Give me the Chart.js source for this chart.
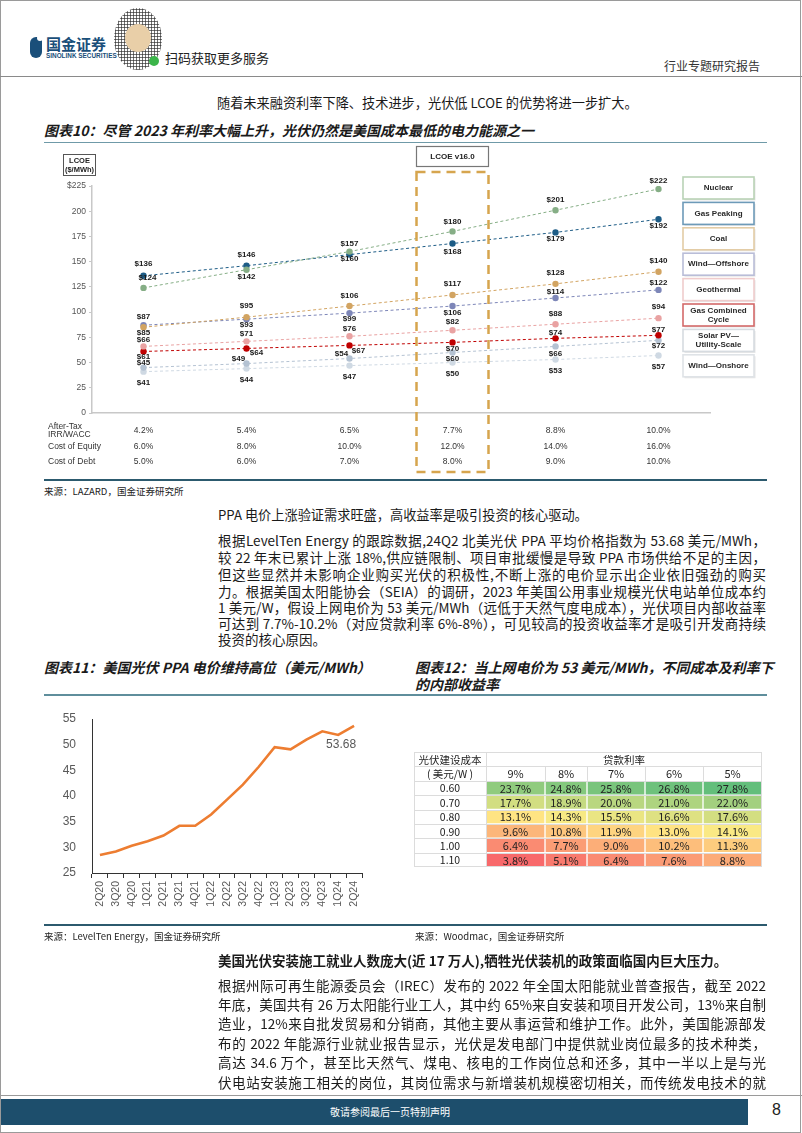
<!DOCTYPE html>
<html><head><meta charset="utf-8">
<script src="https://cdn.jsdelivr.net/npm/chart.js@4.4.1/dist/chart.umd.min.js"></script>
<style>
html,body{margin:0;padding:0;background:#fff;}
body{width:802px;height:1133px;position:relative;overflow:hidden;font-family:"Noto Sans CJK SC",sans-serif;color:#1a1a1a;}
.t{position:absolute;white-space:nowrap;line-height:18px;}
.b13{font-size:13.2px;}
.jl{position:absolute;left:218px;width:548px;white-space:nowrap;text-align:justify;text-align-last:justify;font-size:13.5px;line-height:18px;}
.jl.last{text-align:left;text-align-last:left;}
.ttl{font-weight:bold;font-style:italic;font-size:14px;}
.src{font-size:9.5px;color:#222;}
.rule{position:absolute;}
canvas{position:absolute;}
</style></head><body>

<!-- page frame -->
<div class="rule" style="left:0;top:0;width:799px;height:1131px;border:1px solid #9a9a9a;"></div>

<!-- header -->
<div class="rule" style="left:30px;top:37px;width:12px;height:21px;background:#1a4f7a;border-radius:6px 2px 6px 6px;"></div>
<div class="rule" style="left:37px;top:35px;width:6px;height:6px;background:#fff;border-radius:50%;"></div>
<div class="t" style="left:46px;top:35px;font-size:15px;font-weight:bold;color:#1a4f7a;line-height:18px;">国金证券</div>
<div class="t" style="left:46px;top:52px;font-size:6.4px;font-weight:bold;color:#1a4f7a;line-height:8px;font-family:'Liberation Sans',Arial;">SINOLINK SECURITIES</div>
<div class="rule" style="left:114px;top:8px;width:48px;height:62px;border-radius:50%;background:radial-gradient(circle,#444 0.9px,transparent 1.3px) 0 0/3px 3px;"></div>
<div class="rule" style="left:125px;top:24px;width:26px;height:28px;border-radius:50%;background:#e9cfa8;"></div>
<div class="rule" style="left:149px;top:56px;width:10px;height:10px;border-radius:50%;background:#3bb54a;"></div>
<div class="t" style="left:165px;top:49px;font-size:13px;color:#222;">扫码获取更多服务</div>
<div class="t" style="left:664px;top:57px;font-size:12px;color:#333;">行业专题研究报告</div>
<div class="rule" style="left:0;top:76px;width:802px;height:1px;background:#8a8a8a;"></div>

<div class="t b13" style="left:217px;top:94px;">随着未来融资利率下降、技术进步，光伏低 LCOE 的优势将进一步扩大。</div>
<div class="t ttl" style="left:44px;top:121px;">图表10：尽管 2023 年利率大幅上升，光伏仍然是美国成本最低的电力能源之一</div>
<div class="rule" style="left:44px;top:142px;width:723px;height:1px;background:#6f9aa8;"></div>

<canvas id="lcoe" width="723" height="335" style="left:44px;top:145px;"></canvas>

<div class="rule" style="left:44px;top:479px;width:723px;height:2px;background:#2c5a6e;"></div>
<div class="t src" style="left:44px;top:482px;">来源：LAZARD，国金证券研究所</div>

<div class="t b13" style="left:218px;top:506px;">PPA 电价上涨验证需求旺盛，高收益率是吸引投资的核心驱动。</div>
<div class="jl" style="top:531px;">根据LevelTen Energy 的跟踪数据,24Q2 北美光伏 PPA 平均价格指数为 53.68 美元/MWh，</div>
<div class="jl" style="top:548px;">较 22 年末已累计上涨 18%,供应链限制、项目审批缓慢是导致 PPA 市场供给不足的主因，</div>
<div class="jl" style="top:565px;">但这些显然并未影响企业购买光伏的积极性,不断上涨的电价显示出企业依旧强劲的购买</div>
<div class="jl" style="top:582px;">力。根据美国太阳能协会（SEIA）的调研，2023 年美国公用事业规模光伏电站单位成本约</div>
<div class="jl" style="top:598px;">1 美元/W，假设上网电价为 53 美元/MWh（远低于天然气度电成本），光伏项目内部收益率</div>
<div class="jl" style="top:614px;">可达到 7.7%-10.2%（对应贷款利率 6%-8%），可见较高的投资收益率才是吸引开发商持续</div>
<div class="jl last" style="top:630px;">投资的核心原因。</div>

<div class="t ttl" style="left:44px;top:658px;">图表11：美国光伏 PPA 电价维持高位（美元/MWh）</div>
<div class="t ttl" style="left:415px;top:658px;">图表12：当上网电价为 53 美元/MWh，不同成本及利率下</div>
<div class="t ttl" style="left:415px;top:675px;">的内部收益率</div>
<div class="rule" style="left:44px;top:694px;width:723px;height:2px;background:#5f8e9c;"></div>

<canvas id="ppa" width="356" height="228" style="left:44px;top:700px;"></canvas>
<canvas id="irr" width="348" height="115" style="left:414px;top:752px;"></canvas>

<div class="rule" style="left:44px;top:924px;width:723px;height:2px;background:#2c5a6e;"></div>
<div class="t src" style="left:44px;top:927px;">来源：LevelTen Energy，国金证券研究所</div>
<div class="t src" style="left:415px;top:927px;">来源：Woodmac，国金证券研究所</div>

<div class="t" style="left:218px;top:951px;font-size:13.5px;font-weight:bold;">美国光伏安装施工就业人数庞大(近 17 万人),牺牲光伏装机的政策面临国内巨大压力。</div>
<div class="jl" style="top:976px;">根据州际可再生能源委员会（IREC）发布的 2022 年全国太阳能就业普查报告，截至 2022</div>
<div class="jl" style="top:995px;">年底，美国共有 26 万太阳能行业工人，其中约 65%来自安装和项目开发公司，13%来自制</div>
<div class="jl" style="top:1014px;">造业，12%来自批发贸易和分销商，其他主要从事运营和维护工作。此外，美国能源部发</div>
<div class="jl" style="top:1034px;">布的 2022 年能源行业就业报告显示，光伏是发电部门中提供就业岗位最多的技术种类，</div>
<div class="jl" style="top:1053px;">高达 34.6 万个，甚至比天然气、煤电、核电的工作岗位总和还多，其中一半以上是与光</div>
<div class="jl" style="top:1073px;">伏电站安装施工相关的岗位，其岗位需求与新增装机规模密切相关，而传统发电技术的就</div>

<!-- footer -->
<div class="rule" style="left:0;top:1095px;width:802px;height:1px;background:#9a9a9a;"></div>
<div class="rule" style="left:1px;top:1099px;width:747px;height:26px;background:#1d4e6c;"></div>
<div class="t" style="left:300px;top:1103px;width:180px;text-align:center;font-size:10px;color:#fff;">敬请参阅最后一页特别声明</div>
<div class="t" style="left:772px;top:1101px;font-size:16px;color:#222;font-family:'Liberation Sans',Arial;">8</div>

<script>
// ---------------- DATA ----------------
// Figure 10: LCOE by after-tax IRR/WACC scenario ($/MWh)
const WACC = ['4.2%', '5.4%', '6.5%', '7.7%', '8.8%', '10.0%'];
const COST_OF_EQUITY = ['6.0%', '8.0%', '10.0%', '12.0%', '14.0%', '16.0%'];
const COST_OF_DEBT = ['5.0%', '6.0%', '7.0%', '8.0%', '9.0%', '10.0%'];
const LCOE_NUCLEAR = [124, 142, 160, 180, 201, 222];
const LCOE_GAS_PEAKING = [136, 146, 157, 168, 179, 192];
const LCOE_COAL = [85, 95, 106, 117, 128, 140];
const LCOE_WIND_OFFSHORE = [87, 93, 99, 106, 114, 122];
const LCOE_GEOTHERMAL = [66, 71, 76, 82, 88, 94];
const LCOE_GAS_CC = [61, 64, 67, 70, 74, 77];
const LCOE_SOLAR_PV = [45, 49, 54, 60, 66, 72];
const LCOE_WIND_ONSHORE = [41, 44, 47, 50, 53, 57];
const LCOE_MAX = 225, LCOE_STEP = 25;
const HIGHLIGHT_LABEL = 'LCOE v16.0';

// Figure 11: US solar PPA price index (USD/MWh)
const PPA_QUARTERS = ['2Q20','3Q20','4Q20','1Q21','2Q21','3Q21','4Q21','1Q22','2Q22','3Q22','4Q22','1Q23','2Q23','3Q23','4Q23','1Q24','2Q24'];
const PPA_INDEX = [28.5, 29.2, 30.3, 31.2, 32.3, 34.2, 34.2, 36.4, 39.3, 42.2, 45.7, 49.5, 49.1, 51.0, 52.6, 51.9, 53.68];

// Figure 12: IRR by build cost (USD/W) and loan rate
const BUILD_COST = ['0.60', '0.70', '0.80', '0.90', '1.00', '1.10'];
const LOAN_RATE = ['9%', '8%', '7%', '6%', '5%'];
const IRR_060 = [23.7, 24.8, 25.8, 26.8, 27.8];
const IRR_070 = [17.7, 18.9, 20.0, 21.0, 22.0];
const IRR_080 = [13.1, 14.3, 15.5, 16.6, 17.6];
const IRR_090 = [9.6, 10.8, 11.9, 13.0, 14.1];
const IRR_100 = [6.4, 7.7, 9.0, 10.2, 11.3];
const IRR_110 = [3.8, 5.1, 6.4, 7.6, 8.8];

// ---------------- STYLE ----------------
// label offsets [dx, dy] in px, one per point (styling only)
const SERIES_STYLE = [
  {name:'Nuclear', color:'#86ae86', box:'#b9d3b6',
   off:[[4,-10],[0,7],[0,7.5],[0,-9.5],[0,-10],[0,-8]]},
  {name:'Gas Peaking', color:'#1d5c86', box:'#6d9ab8',
   off:[[0,-12],[0,-11],[0,-11],[0,8.5],[0,6.5],[0,7]]},
  {name:'Coal', color:'#d2a462', box:'#e3cca6',
   off:[[0,6],[0,-11],[0,-10],[0,-11],[0,-11],[0,-11]]},
  {name:'Wind\u2014Offshore', color:'#7d86b8', box:'#b9bdd8',
   off:[[0,-8],[0,5.5],[0,6],[0,7],[0,-6],[0,-7]]},
  {name:'Geothermal', color:'#e9a2a2', box:'#efcccc',
   off:[[0,-6.5],[0,-7.5],[0,-8],[0,-8],[0,-10],[0,-11]]},
  {name:'Gas Combined\nCycle', color:'#c00000', box:'#d46a6a',
   off:[[0,5.5],[10,4.5],[9,5.5],[0,6],[0,-6],[0,-6]]},
  {name:'Solar PV\u2014\nUtility-Scale', color:'#b4c2d2', box:'#d6dbe0',
   off:[[0,-4.5],[-8,-4.5],[-8,-4.5],[0,6.5],[0,7.5],[0,5.5]]},
  {name:'Wind\u2014Onshore', color:'#cfd9e3', box:'#dfe3e7',
   off:[[0,11.5],[0,11.5],[0,11.5],[0,11.5],[0,11.5],[0,11.5]]}
];
const LCOE_SERIES = [LCOE_NUCLEAR, LCOE_GAS_PEAKING, LCOE_COAL, LCOE_WIND_OFFSHORE, LCOE_GEOTHERMAL, LCOE_GAS_CC, LCOE_SOLAR_PV, LCOE_WIND_ONSHORE];
const HIGHLIGHT_INDEX = 3;
const IRR_COL_WIDTHS = [59, 42, 58, 58, 59];

Chart.defaults.font.family = '"Liberation Sans", Arial, sans-serif';
Chart.defaults.animation = false;

// ---------------- FIGURE 10 ----------------
const lcoeExtras = {
  id: 'lcoeExtras',
  afterDatasetsDraw(chart) {
    const {ctx, chartArea: a, scales: {x}} = chart;
    ctx.save();
    ctx.textAlign = 'center';
    ctx.textBaseline = 'middle';
    // highlighted scenario box
    const cx = x.getPixelForValue(HIGHLIGHT_INDEX);
    ctx.setLineDash([9, 6]);
    ctx.strokeStyle = '#d6a54e'; ctx.lineWidth = 2.5;
    ctx.strokeRect(cx - 36, 27, 72, 300);
    ctx.setLineDash([]);
    // value labels
    ctx.font = 'bold 8px "Liberation Sans", Arial';
    ctx.fillStyle = '#1a1a1a';
    chart.data.datasets.forEach((ds, di) => {
      const meta = chart.getDatasetMeta(di);
      meta.data.forEach((pt, i) => {
        const o = ds.labelOffset[i];
        ctx.fillText('$' + ds.data[i], pt.x + o[0], pt.y + o[1]);
      });
    });
    // legend boxes (right)
    const bx = 639, bw = 71, bh = 22, by0 = 32, gap = 25.4;
    chart.data.datasets.forEach((ds, di) => {
      const y0 = by0 + di * gap;
      ctx.fillStyle = '#e6e6e6';
      ctx.fillRect(bx + 1.5, y0 + 1.5, bw, bh);
      ctx.fillStyle = '#fff';
      ctx.fillRect(bx, y0, bw, bh);
      ctx.strokeStyle = ds.boxColor;
      ctx.lineWidth = 1.6;
      ctx.strokeRect(bx, y0, bw, bh);
      ctx.fillStyle = '#2a2a2a';
      ctx.font = 'bold 8px "Liberation Sans", Arial';
      const lines = ds.label.split('\n');
      lines.forEach((ln, k) => {
        ctx.fillText(ln, bx + bw / 2, y0 + bh / 2 + (k - (lines.length - 1) / 2) * 9);
      });
    });
    // unit box
    ctx.strokeStyle = '#555'; ctx.lineWidth = 1;
    ctx.strokeRect(19.5, 9.5, 32, 21);
    ctx.fillStyle = '#222';
    ctx.font = 'bold 7.5px "Liberation Sans", Arial';
    ctx.fillText('LCOE', 35.5, 15.5);
    ctx.fillText('($/MWh)', 35.5, 24.5);
    // highlight title box
    ctx.strokeStyle = '#777'; ctx.lineWidth = 1.2;
    ctx.strokeRect(cx - 36, 1.5, 72, 20);
    ctx.font = 'bold 8px "Liberation Sans", Arial';
    ctx.fillText(HIGHLIGHT_LABEL, cx, 11.5);
    // scenario table under axis
    ctx.font = '8.5px "Liberation Sans", Arial';
    ctx.fillStyle = '#333';
    WACC.forEach((w, i) => {
      const px = x.getPixelForValue(i);
      ctx.fillText(w, px, a.bottom + 18);
      ctx.fillText(COST_OF_EQUITY[i], px, a.bottom + 34);
      ctx.fillText(COST_OF_DEBT[i], px, a.bottom + 49);
    });
    ctx.textAlign = 'left';
    ctx.fillText('After-Tax', 4, a.bottom + 13.5);
    ctx.fillText('IRR/WACC', 4, a.bottom + 21.5);
    ctx.fillText('Cost of Equity', 4, a.bottom + 34);
    ctx.fillText('Cost of Debt', 4, a.bottom + 49);
    ctx.restore();
  }
};

new Chart(document.getElementById('lcoe'), {
  type: 'line',
  data: {
    labels: WACC,
    datasets: LCOE_SERIES.map((vals, i) => ({
      label: SERIES_STYLE[i].name,
      data: vals,
      labelOffset: SERIES_STYLE[i].off,
      boxColor: SERIES_STYLE[i].box,
      borderColor: SERIES_STYLE[i].color,
      backgroundColor: SERIES_STYLE[i].color,
      borderWidth: 1,
      borderDash: [3, 2.5],
      pointRadius: 3.2,
      pointBorderWidth: 0,
      tension: 0
    }))
  },
  options: {
    responsive: false,
    devicePixelRatio: 1,
    layout: {padding: {left: 0, right: 57, top: 41, bottom: 0}},
    plugins: {legend: {display: false}, tooltip: {enabled: false}},
    scales: {
      x: {
        offset: true,
        grid: {display: false},
        border: {display: true, color: '#c8c8c8', width: 1.5},
        ticks: {display: false},
        afterFit(s) { s.height = 67; }
      },
      y: {
        min: 0, max: LCOE_MAX,
        ticks: {stepSize: LCOE_STEP, color: '#555', font: {size: 8.5}, padding: 3,
          callback: v => v === LCOE_MAX ? '$' + v : v},
        grid: {display: true, drawOnChartArea: false, tickLength: 3, color: '#c8c8c8'},
        border: {display: true, color: '#c8c8c8', width: 1.5},
        afterFit(s) { s.width = 48; }
      }
    }
  },
  plugins: [lcoeExtras]
});

// ---------------- FIGURE 11 ----------------
const ppaLabel = {
  id: 'ppaLabel',
  afterDatasetsDraw(chart) {
    const {ctx} = chart;
    const meta = chart.getDatasetMeta(0);
    const last = meta.data[meta.data.length - 1];
    const v = PPA_INDEX[PPA_INDEX.length - 1];
    ctx.save();
    ctx.font = '12px "Liberation Sans", Arial';
    ctx.fillStyle = '#595959';
    ctx.textAlign = 'center';
    ctx.textBaseline = 'middle';
    ctx.fillText(v.toFixed(2), last.x - 13, last.y + 19);
    ctx.restore();
  }
};
new Chart(document.getElementById('ppa'), {
  type: 'line',
  data: {labels: PPA_QUARTERS, datasets: [{data: PPA_INDEX, borderColor: '#ed7d31', borderWidth: 2.6, pointRadius: 0, tension: 0}]},
  options: {
    responsive: false,
    devicePixelRatio: 1,
    layout: {padding: {left: 0, right: 38, top: 19, bottom: 0}},
    plugins: {legend: {display: false}, tooltip: {enabled: false}},
    scales: {
      x: {
        offset: true,
        grid: {display: true, drawOnChartArea: false, offset: true, tickLength: 5, color: '#333'},
        border: {display: true, color: '#333', width: 1},
        ticks: {minRotation: 90, maxRotation: 90, autoSkip: false, color: '#595959', font: {size: 10.5}, padding: 3},
        afterFit(s) { s.height = 55; }
      },
      y: {
        min: 25, max: 55,
        ticks: {stepSize: 5, color: '#595959', font: {size: 12}, padding: 8},
        grid: {display: false},
        border: {display: true, color: '#333', width: 1},
        afterFit(s) { s.width = 48; }
      }
    }
  },
  plugins: [ppaLabel]
});

// ---------------- FIGURE 12 ----------------
const IRR_TABLE = [IRR_060, IRR_070, IRR_080, IRR_090, IRR_100, IRR_110];
const HEADER_ROWS = ['光伏建设成本', '( 美元/W )'];
const HEADER_TITLE = '贷款利率';
const COL_EDGES = IRR_COL_WIDTHS.reduce((acc, w) => { acc.push(acc[acc.length - 1] + w); return acc; }, [0]);
const allVals = IRR_TABLE.flat().slice().sort((a, b) => a - b);
const vMin = allVals[0], vMax = allVals[allVals.length - 1];
const vMid = (allVals[Math.floor((allVals.length - 1) / 2)] + allVals[Math.ceil((allVals.length - 1) / 2)]) / 2;
function heatColor(v) {
  const red = [248, 105, 107], yel = [255, 235, 132], grn = [99, 190, 123];
  const lerp = (a, b, t) => a.map((c, k) => Math.round(c + (b[k] - c) * t));
  const c = v <= vMid ? lerp(red, yel, (v - vMin) / (vMid - vMin)) : lerp(yel, grn, (v - vMid) / (vMax - vMid));
  return 'rgb(' + c.join(',') + ')';
}
const irrLabels = HEADER_ROWS.concat(BUILD_COST);
const irrTable = {
  id: 'irrTable',
  afterDraw(chart) {
    const {ctx, chartArea: a, scales: {x, y}} = chart;
    const n = irrLabels.length;
    const rh = (a.bottom - a.top) / n;
    const colMid = j => x.getPixelForValue((COL_EDGES[j] + COL_EDGES[j + 1]) / 2);
    ctx.save();
    ctx.strokeStyle = '#dcdcdc';
    ctx.lineWidth = 1;
    ctx.beginPath();
    for (let r = 0; r <= n; r++) {
      const yy = Math.round(a.top + r * rh) + 0.5 - (r === n ? 1 : 0);
      ctx.moveTo(0.5, yy); ctx.lineTo(a.right - 0.5, yy);
    }
    ctx.moveTo(0.5, a.top); ctx.lineTo(0.5, a.bottom);
    ctx.moveTo(a.left + 0.5, a.top); ctx.lineTo(a.left + 0.5, a.bottom);
    ctx.moveTo(a.right - 0.5, a.top); ctx.lineTo(a.right - 0.5, a.bottom);
    for (let j = 1; j < LOAN_RATE.length; j++) {
      const xx = Math.round(x.getPixelForValue(COL_EDGES[j])) + 0.5;
      ctx.moveTo(xx, a.top + rh); ctx.lineTo(xx, a.top + 2 * rh);
    }
    ctx.stroke();
    ctx.fillStyle = '#222';
    ctx.textAlign = 'center';
    ctx.textBaseline = 'middle';
    ctx.font = '10.5px "Noto Sans CJK SC", sans-serif';
    irrLabels.forEach((lb, i) => ctx.fillText(lb, a.left / 2, y.getPixelForValue(i) + 0.5));
    ctx.fillText(HEADER_TITLE, (a.left + a.right) / 2, y.getPixelForValue(0) + 0.5);
    ctx.font = '11px "Noto Sans CJK SC", sans-serif';
    LOAN_RATE.forEach((r, j) => ctx.fillText(r, colMid(j), y.getPixelForValue(1) + 0.5));
    IRR_TABLE.forEach((row, i) => row.forEach((v, j) => {
      ctx.fillText(v.toFixed(1) + '%', colMid(j), y.getPixelForValue(i + 2) + 0.5);
    }));
    ctx.restore();
  }
};
new Chart(document.getElementById('irr'), {
  type: 'bar',
  data: {
    labels: irrLabels,
    datasets: LOAN_RATE.map((r, j) => ({
      label: r,
      data: HEADER_ROWS.map(() => null).concat(IRR_TABLE.map(() => [COL_EDGES[j], COL_EDGES[j + 1]])),
      backgroundColor: HEADER_ROWS.map(() => 'rgba(0,0,0,0)').concat(IRR_TABLE.map(row => heatColor(row[j]))),
      borderColor: 'rgba(255,255,255,0.45)',
      borderWidth: 1,
      borderSkipped: false,
      grouped: false,
      barPercentage: 1,
      categoryPercentage: 1
    }))
  },
  options: {
    indexAxis: 'y',
    responsive: false,
    devicePixelRatio: 1,
    layout: {padding: 0},
    plugins: {legend: {display: false}, tooltip: {enabled: false}},
    scales: {
      x: {type: 'linear', min: 0, max: COL_EDGES[COL_EDGES.length - 1], display: false},
      y: {type: 'category', ticks: {display: false}, grid: {display: false}, border: {display: false},
          afterFit(s) { s.width = 72; }}
    }
  },
  plugins: [irrTable]
});

// fit justified lines that overflow
document.querySelectorAll('.jl').forEach(el => {
  if (el.scrollWidth > el.clientWidth + 1) {
    const k = el.clientWidth / el.scrollWidth;
    el.style.transformOrigin = 'left top';
    el.style.width = el.scrollWidth + 'px';
    el.style.transform = 'scaleX(' + k + ')';
  }
});
</script>
</body></html>
